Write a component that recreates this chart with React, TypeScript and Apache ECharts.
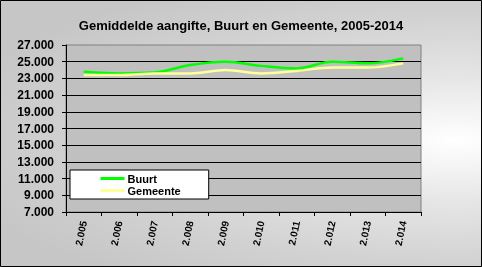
import React, { useEffect, useRef } from "react";
import * as echarts from "echarts";

// Years along the category axis
const years: string[] = ["2.005", "2.006", "2.007", "2.008", "2.009", "2.010", "2.011", "2.012", "2.013", "2.014"];
// Average declared amount per year
const buurt: number[] = [23800, 23600, 23700, 24600, 25000, 24500, 24200, 25000, 24800, 25400];
const gemeente: number[] = [23400, 23400, 23600, 23600, 24000, 23600, 23900, 24300, 24300, 24800];

const fmt = (v: number) => {
  const s = Math.round(v).toString();
  return s.replace(/\B(?=(\d{3})+(?!\d))/g, ".");
};

export default function App() {
  const ref = useRef<HTMLDivElement>(null);

  useEffect(() => {
    if (!ref.current) return;
    const chart = echarts.init(ref.current, undefined, { renderer: "svg" });
    const font = "Liberation Sans, Arial, sans-serif";
    chart.setOption({
      animation: false,
      backgroundColor: "transparent",
      textStyle: { fontFamily: font },
      title: {
        text: "Gemiddelde aangifte, Buurt en Gemeente, 2005-2014",
        left: "center",
        top: 14,
        textStyle: { fontSize: 13, fontWeight: "bold", color: "#000", fontFamily: font },
      },
      legend: {
        orient: "vertical",
        left: 70,
        top: 170,
        backgroundColor: "#ffffff",
        borderColor: "#000000",
        borderWidth: 1,
        padding: [3, 28, 3, 29],
        itemWidth: 24,
        itemHeight: 11,
        itemGap: 1,
        itemStyle: { opacity: 0 },
        lineStyle: { width: 3 },
        textStyle: { fontSize: 11, fontWeight: "bold", color: "#000", fontFamily: font, lineHeight: 11, padding: [0, 0, 0, -2] },
        data: ["Buurt", "Gemeente"],
      },
      grid: {
        left: 66,
        top: 45,
        right: 61,
        bottom: 55,
        show: true,
        backgroundColor: "#c0c0c0",
        borderColor: "#808080",
        borderWidth: 1,
      },
      xAxis: {
        type: "category",
        data: years,
        boundaryGap: true,
        axisLine: { lineStyle: { color: "#000", width: 1 } },
        axisTick: { show: true, length: 4, lineStyle: { color: "#000" } },
        axisLabel: {
          rotate: 78,
          fontSize: 10,
          fontWeight: "bold",
          color: "#000",
          fontFamily: font,
          margin: 9,
        },
      },
      yAxis: {
        type: "value",
        min: 7000,
        max: 27000,
        interval: 2000,
        axisLine: { show: true, lineStyle: { color: "#000", width: 1 } },
        axisTick: { show: true, length: 4, lineStyle: { color: "#000" } },
        axisLabel: {
          fontSize: 12,
          fontWeight: "bold",
          color: "#000",
          fontFamily: font,
          margin: 12,
          formatter: (v: number) => fmt(v),
        },
        splitLine: {
          show: true,
          showMaxLine: false,
          lineStyle: { color: "#000", width: 1 },
        },
      },
      series: [
        {
          name: "Buurt",
          type: "line",
          data: buurt,
          smooth: 0.35,
          symbol: "none",
          lineStyle: { color: "#00ff00", width: 2.5 },
          itemStyle: { color: "#00ff00" },
        },
        {
          name: "Gemeente",
          type: "line",
          data: gemeente,
          smooth: 0.35,
          symbol: "none",
          lineStyle: { color: "#ffff99", width: 2.5 },
          itemStyle: { color: "#ffff99" },
        },
      ],
      graphic: [
        {
          type: "rect",
          shape: { x: 0.5, y: 0.5, width: 481, height: 266 },
          style: { fill: "none", stroke: "#000", lineWidth: 1 },
          silent: true,
        },
      ],
    });
    return () => chart.dispose();
  }, []);

  return (
    <div
      style={{
        position: "fixed",
        left: 0,
        top: 0,
        width: 482,
        height: 267,
        background:
          "radial-gradient(ellipse 520px 175px at 455px 140px, #ffffff 0%, #e6e6e6 35%, #d2d2d2 70%, #c6c6c6 100%)",
      }}
    >
      <div ref={ref} style={{ width: 482, height: 267 }} />
    </div>
  );
}
